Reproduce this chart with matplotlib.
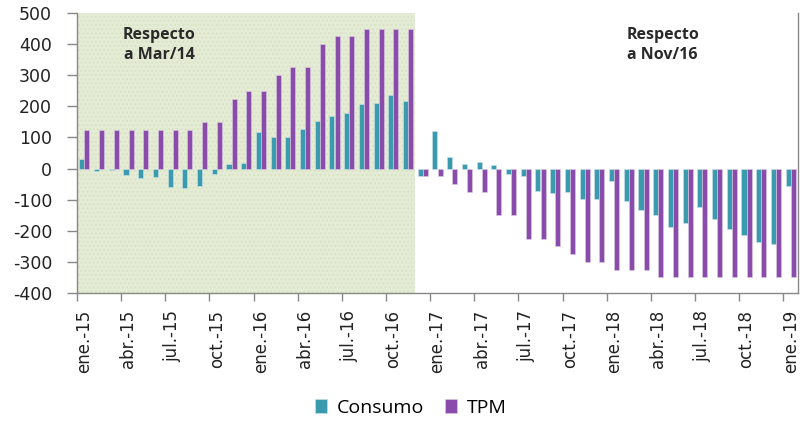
import matplotlib
matplotlib.use("Agg")
import matplotlib.pyplot as plt
import numpy as np

months = ["ene.", "feb.", "mar.", "abr.", "may.", "jun.", "jul.", "ago.", "sep.", "oct.", "nov.", "dic."]
periods = [f"{months[m]}-{15 + y}" for y in range(5) for m in range(12)][:49]

consumo = [30, -8, -4, -20, -29, -28, -60, -61, -57, -18, 14, 18,
           117, 100, 103, 126, 154, 168, 180, 207, 210, 237, 218,
           -25, 121, 38, 14, 22, 12, -16, -25, -73, -77, -75, -97, -99,
           -40, -104, -132, -148, -188, -175, -123, -163, -194, -214, -236, -242, -55]
tpm = [125, 125, 125, 125, 125, 125, 125, 125, 150, 150, 225, 250,
       250, 300, 325, 325, 400, 425, 425, 450, 450, 450, 450,
       -25, -25, -50, -75, -75, -150, -150, -225, -225, -250, -275, -300, -300,
       -325, -325, -325, -350, -350, -350, -350, -350, -350, -350, -350, -350, -350]

series_names = ["Consumo", "TPM"]
colors = ["#3a9aae", "#8a4caa"]
shade_end = 23  # first period outside "Respecto a Mar/14" block
yticks = list(range(-400, 501, 100))

fig = plt.figure(figsize=(8.02, 4.23), dpi=100)
ax = fig.add_axes([77 / 802, 1 - 293 / 423, (798 - 77) / 802, (293 - 13) / 423])

x = np.arange(len(periods))
w = 0.34
ax.axvspan(-0.5, shade_end - 0.5, facecolor="#e5ecd5", edgecolor="#d9e3c6", hatch="....", linewidth=0, zorder=0)
ax.bar(x - w / 2, consumo, width=w, color=colors[0], edgecolor="#cfe3e8", linewidth=0.4, label=series_names[0], zorder=2)
ax.bar(x + w / 2, tpm, width=w, color=colors[1], edgecolor="#dccbe6", linewidth=0.4, label=series_names[1], zorder=2)

ax.set_xlim(-0.5, len(periods) - 0.5)
ax.set_ylim(-400, 500)
ax.set_yticks(yticks)
ax.set_yticklabels([str(v) for v in yticks], fontsize=12.5, color="#222222", family="DejaVu Sans")
ax.tick_params(axis="y", length=7, width=1, color="#888888", pad=11)

lab_idx = list(range(0, len(periods), 3))
ax.set_xticks(lab_idx)
ax.set_xticklabels([periods[i] for i in lab_idx], rotation=90, fontsize=12, color="#222222", family="DejaVu Sans")
ax.tick_params(axis="x", which="major", length=0, pad=12)
ax.set_xticks([i - 0.5 for i in lab_idx], minor=True)
ax.tick_params(axis="x", which="minor", length=6, width=1, color="#888888")

ax.spines["top"].set_visible(False)
for s in ["left", "bottom", "right"]:
    ax.spines[s].set_color("#888888")
    ax.spines[s].set_linewidth(1)

ax.text(5.1, 455, "Respecto\na Mar/14", fontsize=11.5, fontweight="bold", color="#2a2a2a",
        va="top", ha="center", family="Open Sans", linespacing=1.35)
ax.text(39.3, 455, "Respecto\na Nov/16", fontsize=11.5, fontweight="bold", color="#2a2a2a",
        va="top", ha="center", family="Open Sans", linespacing=1.35)

fig.legend(loc="center", bbox_to_anchor=(411 / 802, 1 - 408 / 423), ncol=2, frameon=False,
           handlelength=0.6, handleheight=0.7, handletextpad=0.5, columnspacing=1.1,
           prop={"family": "Open Sans", "size": 14})
fig.savefig("out.png", dpi=100)
